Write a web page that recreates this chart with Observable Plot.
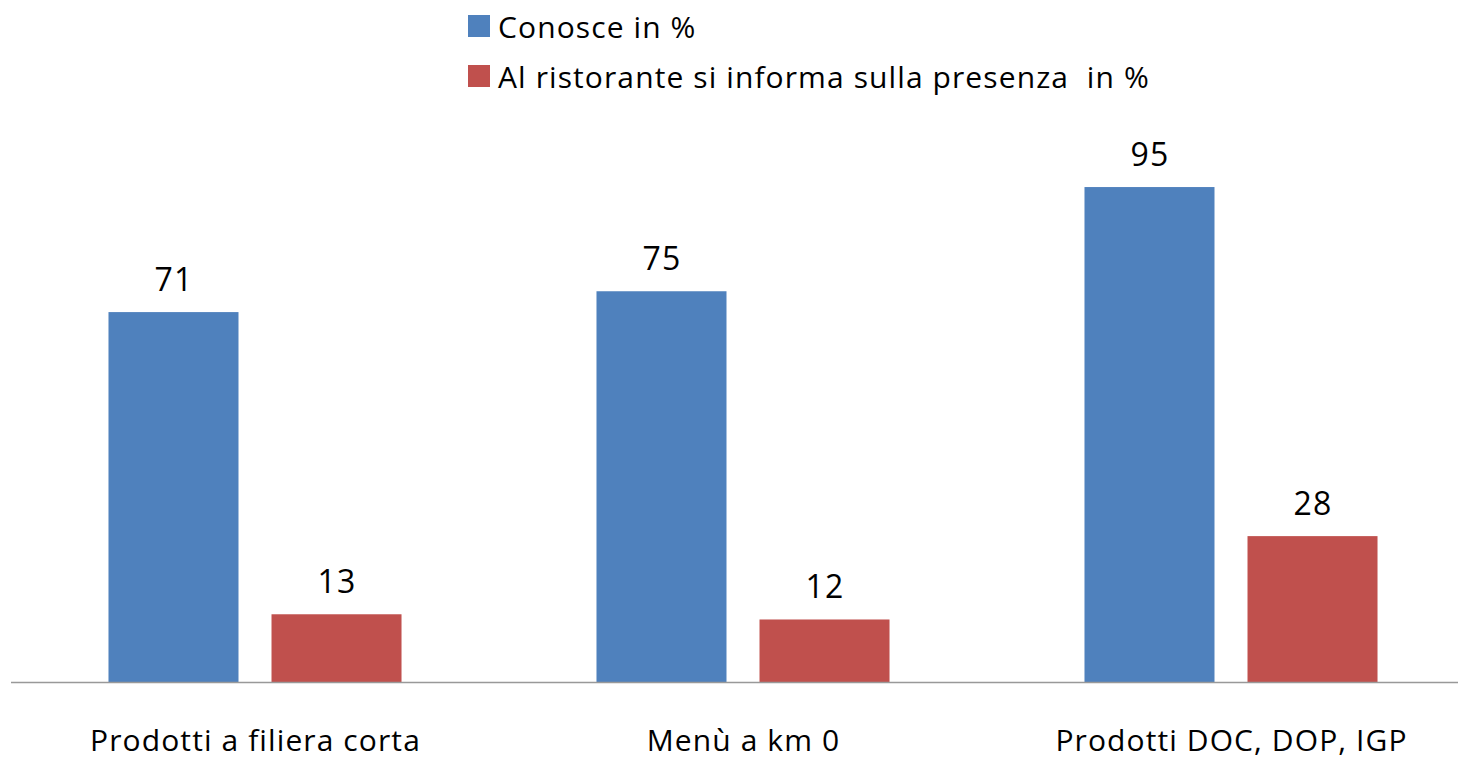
<!DOCTYPE html>
<html>
<head>
<meta charset="utf-8">
<script src="https://cdn.jsdelivr.net/npm/d3@7"></script>
<script src="https://cdn.jsdelivr.net/npm/@observablehq/plot@0.6"></script>
<style>
  html, body { margin: 0; padding: 0; background: #fff; overflow: hidden; width: 1458px; height: 759px; }
  #wrap { position: relative; width: 1458px; height: 759px; overflow: hidden; }
  #legend { position: relative; height: 110px; font-family: "Open Sans", sans-serif; font-size: 30px; letter-spacing: 1.1px; color: #000; }
  .item { position: absolute; left: 468px; height: 36px; display: flex; align-items: center; white-space: pre; }
  .sw { width: 22px; height: 22px; margin-right: 8px; }
  #chart svg { display: block; max-width: none !important; }
</style>
</head>
<body>
<div id="wrap">
  <div id="legend"></div>
  <div id="chart"></div>
</div>
<script>
const categories = ["Prodotti a filiera corta", "Menù a km 0", "Prodotti DOC, DOP, IGP"];
const series = ["Conosce in %", "Al ristorante si informa sulla presenza  in %"];
const conosce = [71, 75, 95];
const informa = [13, 12, 28];
const colors = ["#4F81BD", "#C0504D"];

const data = [];
categories.forEach((c, i) => {
  data.push({category: c, series: series[0], value: conosce[i]});
  data.push({category: c, series: series[1], value: informa[i]});
});

// legend
const legend = document.getElementById("legend");
series.forEach((s, i) => {
  const d = document.createElement("div");
  d.className = "item";
  d.style.top = (i === 0 ? 8 : 58) + "px";
  const sw = document.createElement("span");
  sw.className = "sw";
  sw.style.background = colors[i];
  const t = document.createElement("span");
  t.textContent = s;
  d.appendChild(sw);
  d.appendChild(t);
  legend.appendChild(d);
});

const chart = Plot.plot({
  width: 1475,
  height: 649,
  marginLeft: 11,
  marginRight: 0,
  marginTop: 51,
  marginBottom: 77,
  style: {fontFamily: "'Open Sans', sans-serif", fontSize: "30px", letterSpacing: "1.1px", color: "#000", background: "#fff", maxWidth: "none"},
  fx: {domain: categories, padding: 0, round: false, label: null, axis: null},
  x: {domain: series, paddingInner: 0.2025, paddingOuter: 0.598, round: false, axis: null},
  y: {domain: [0, 100], axis: null},
  color: {domain: series, range: colors},
  marks: [
    Plot.barY(data, {fx: "category", x: "series", y: "value", fill: "series"}),
    Plot.text(data, {fx: "category", x: "series", y: "value", text: d => String(d.value), lineAnchor: "bottom", dy: -22, fontSize: 32, fill: "#000"}),
    Plot.ruleY([0], {stroke: "#999", strokeWidth: 1.5}),
    Plot.axisFx({anchor: "bottom", tickSize: 0, tickPadding: 47, fontSize: 30, label: null, fill: "#000"})
  ]
});
document.getElementById("chart").appendChild(chart);
</script>
</body>
</html>
